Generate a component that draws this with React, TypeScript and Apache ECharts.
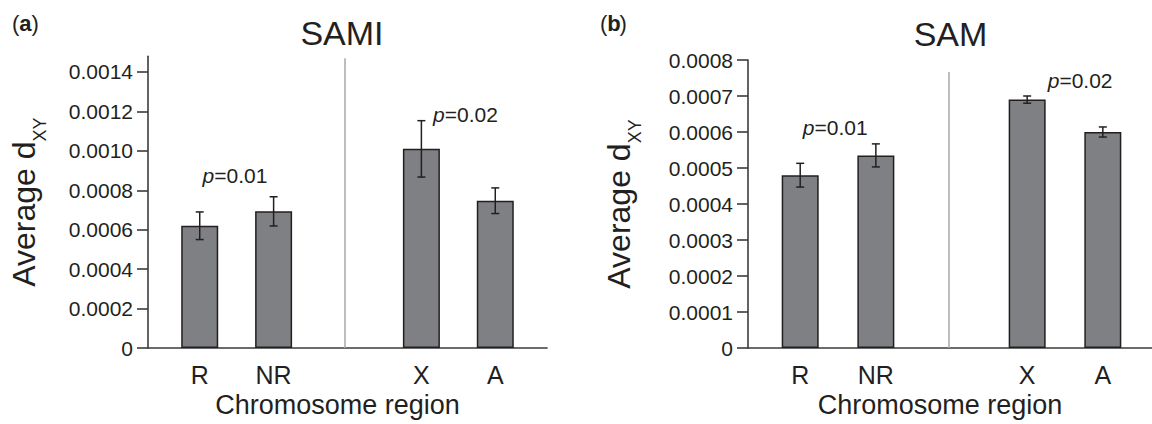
import React, { useEffect, useRef } from "react";
import * as echarts from "echarts";

const categories = ["R", "NR", "", "X", "A"];
const xPositions = [0, 1, 3, 4];
const samiMeans = [0.00062, 0.000693, 0.00101, 0.000747];
const samiErrors = [0.00007, 0.000074, 0.000143, 0.000065];
const samMeans = [0.00048, 0.000535, 0.00069, 0.0006];
const samErrors = [0.000033, 0.000032, 0.00001, 0.000014];
const samiTicks = [0, 0.0002, 0.0004, 0.0006, 0.0008, 0.001, 0.0012, 0.0014];
const samTicks = [0, 0.0001, 0.0002, 0.0003, 0.0004, 0.0005, 0.0006, 0.0007, 0.0008];
const samiPValues = [
  { x: 0.477, y: 0.000875, text: "0.01" },
  { x: 3.596, y: 0.001183, text: "0.02" },
];
const samPValues = [
  { x: 0.462, y: 0.000612, text: "0.01" },
  { x: 3.7, y: 0.000744, text: "0.02" },
];

const FONT = "Liberation Sans";
const INK = "#231f20";
const AXIS = "#3b3b3b";

function makeX(idx: number, min: number, max: number) {
  return {
    type: "value",
    gridIndex: idx,
    min,
    max,
    axisLine: { show: true, onZero: false, lineStyle: { color: AXIS, width: 1.6 } },
    axisTick: { show: false },
    splitLine: { show: false },
    axisLabel: {
      customValues: xPositions,
      formatter: (v: number) => categories[Math.round(v)] ?? "",
      fontSize: 25,
      margin: 14,
      color: INK,
      fontFamily: FONT,
    },
    name: "Chromosome region",
    nameLocation: "middle",
    nameGap: 41,
    nameTextStyle: { fontSize: 27, color: INK, fontFamily: FONT, padding: [0, 20, 0, 0] },
  };
}

function makeY(idx: number, max: number, ticks: number[], nameGap: number) {
  return {
    type: "value",
    gridIndex: idx,
    min: 0,
    max,
    axisLine: { show: true, onZero: false, lineStyle: { color: AXIS, width: 1.6 } },
    axisTick: { show: true, length: 11, customValues: ticks, lineStyle: { color: AXIS, width: 1.6 } },
    splitLine: { show: false },
    axisLabel: {
      customValues: ticks,
      formatter: (v: number) => (v === 0 ? "0" : v.toFixed(4)),
      fontSize: 21,
      margin: 15,
      color: INK,
      fontFamily: FONT,
    },
    name: "{m|Average d}{s|XY}",
    nameLocation: "middle",
    nameGap,
    nameTextStyle: {
      rich: {
        m: { fontSize: 32, lineHeight: 50, verticalAlign: "middle", color: INK, fontFamily: FONT },
        s: { fontSize: 18, lineHeight: 50, verticalAlign: "bottom", color: INK, fontFamily: FONT },
      },
    },
  };
}

function errorRender(params: any, api: any) {
  const x = api.value(0);
  const y = api.value(1);
  const e = api.value(2);
  const top = api.coord([x, y + e]);
  const bot = api.coord([x, y - e]);
  const hw = 4;
  const style = { stroke: INK, lineWidth: 1.5 };
  return {
    type: "group",
    children: [
      { type: "line", shape: { x1: top[0], y1: top[1], x2: bot[0], y2: bot[1] }, style },
      { type: "line", shape: { x1: top[0] - hw, y1: top[1], x2: top[0] + hw, y2: top[1] }, style },
      { type: "line", shape: { x1: bot[0] - hw, y1: bot[1], x2: bot[0] + hw, y2: bot[1] }, style },
    ],
  };
}

function makeSeries(idx: number, means: number[], errors: number[], pvals: any[], sepTop: number) {
  return [
    {
      type: "bar",
      xAxisIndex: idx,
      yAxisIndex: idx,
      barWidth: 37,
      data: xPositions.map((x, i) => [x, means[i]]),
      itemStyle: { color: "#7f8084", borderColor: INK, borderWidth: 1.5 },
      markLine: {
        silent: true,
        symbol: "none",
        label: { show: false },
        lineStyle: { color: "#a7a9ac", width: 1.5, type: "solid" },
        data: [[{ coord: [1.96, 0] }, { coord: [1.96, sepTop] }]],
      },
      markPoint: {
        silent: true,
        symbol: "circle",
        symbolSize: 1,
        itemStyle: { color: "rgba(0,0,0,0)" },
        label: {
          show: true,
          position: "inside",
          fontSize: 21,
          color: INK,
          fontFamily: FONT,
          formatter: (p: any) => "{i|p}=" + p.data.name,
          rich: {
            i: { fontStyle: "italic", fontSize: 21, color: INK, fontFamily: FONT },
          },
        },
        data: pvals.map((p) => ({ coord: [p.x, p.y], name: p.text })),
      },
    },
    {
      type: "custom",
      xAxisIndex: idx,
      yAxisIndex: idx,
      z: 5,
      renderItem: errorRender,
      encode: { x: 0, y: 1 },
      data: xPositions.map((x, i) => [x, means[i], errors[i]]),
    },
  ];
}

function panelTitles(letter: string, left: number) {
  const base = { fontSize: 22, color: INK, fontFamily: FONT };
  return [
    { text: "(", left, top: 7.6, textStyle: { ...base, fontWeight: "normal" } },
    { text: letter, left: left + 7.3, top: 7.6, textStyle: { ...base, fontWeight: "bold" } },
    { text: ")", left: left + 19.6, top: 7.6, textStyle: { ...base, fontWeight: "normal" } },
  ];
}

export default function App() {
  const ref = useRef<HTMLDivElement>(null);
  useEffect(() => {
    if (!ref.current) return;
    const chart = echarts.init(ref.current, null, { renderer: "svg" });
    const option: any = {
      animation: false,
      backgroundColor: "#ffffff",
      textStyle: { fontFamily: FONT, color: INK },
      title: [
        { text: "SAMI", left: 337, top: 10.5, textAlign: "center", textStyle: { fontSize: 34, fontWeight: "normal", color: INK, fontFamily: FONT } },
        { text: "SAM", left: 945.5, top: 12, textAlign: "center", textStyle: { fontSize: 34, fontWeight: "normal", color: INK, fontFamily: FONT } },
        ...panelTitles("a", 7),
        ...panelTitles("b", 595),
      ],
      grid: [
        { left: 148, top: 56.2, width: 399, height: 291.8, containLabel: false, outerBoundsMode: "none" },
        { left: 748, top: 60, width: 404, height: 288, containLabel: false, outerBoundsMode: "none" },
      ],
      xAxis: [makeX(0, -0.7, 4.7), makeX(1, -0.69, 4.65)],
      yAxis: [makeY(0, 0.00148, samiTicks, 99), makeY(1, 0.0008, samTicks, 104)],
      series: [
        ...makeSeries(0, samiMeans, samiErrors, samiPValues, 0.00147),
        ...makeSeries(1, samMeans, samErrors, samPValues, 0.000767),
      ],
    };
    chart.setOption(option);
    return () => chart.dispose();
  }, []);
  return (
    <div
      ref={ref}
      style={{ position: "fixed", left: 0, top: 0, width: 1152, height: 424 }}
    />
  );
}
